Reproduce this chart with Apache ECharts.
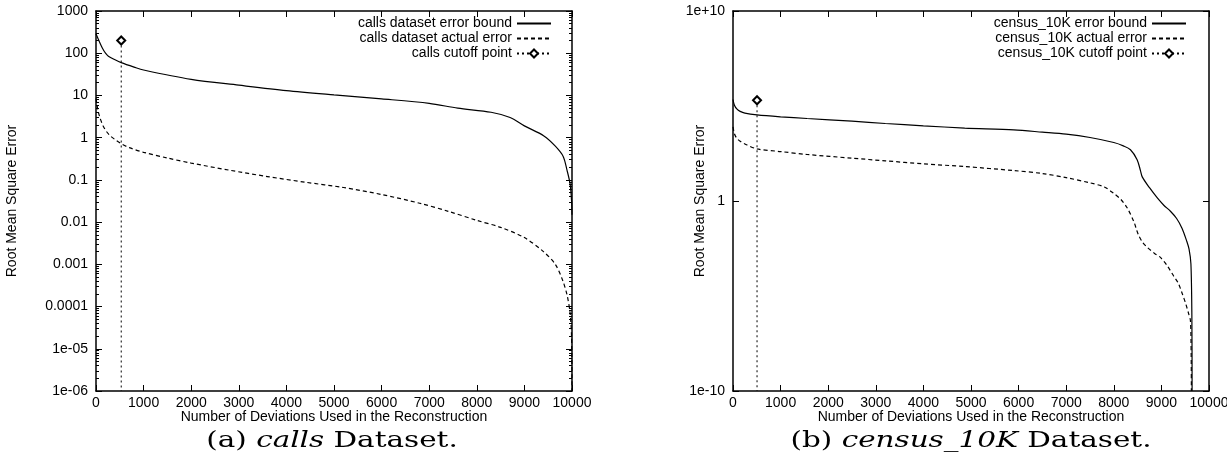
<!DOCTYPE html>
<html>
<head>
<meta charset="utf-8">
<script src="https://cdn.jsdelivr.net/npm/echarts@6/dist/echarts.min.js"></script>
<style>
  html, body { margin: 0; padding: 0; background: #fff; }
  #chart { width: 1227px; height: 465px; }
</style>
</head>
<body>
<div id="chart"></div>
<script>
  // (a) calls dataset
  var callsBoundX = [0, 60, 130, 200, 260, 400, 530, 800, 1000, 2000, 3000, 4000, 5000, 6000, 7000, 7600, 8300, 8700, 9000, 9410, 9650, 9815, 9895, 9960, 9992, 10000]
  var callsBound = [290, 200, 135, 100, 85, 70, 60, 47, 40, 24, 17.5, 13, 10.3, 8.3, 6.5, 5, 4, 3, 1.9, 1.1, 0.63, 0.36, 0.17, 0.08, 0.03, 0.015]
  var callsActualX = [0, 40, 90, 150, 220, 300, 400, 530, 700, 1000, 1500, 2000, 2800, 3600, 4400, 5200, 6000, 6800, 7400, 8000, 8500, 9000, 9400, 9650, 9810, 9900, 9960, 9990, 10000]
  var callsActual = [8.5, 4.5, 2.8, 1.9, 1.4, 1.1, 0.9, 0.72, 0.58, 0.45, 0.33, 0.25, 0.17, 0.12, 0.088, 0.066, 0.045, 0.028, 0.018, 0.011, 0.0075, 0.0043, 0.002, 0.001, 0.0004, 0.00018, 0.00007, 0.00002, 0.000001]
  var callsCutoffX = [530, 530]
  var callsCutoff = [200, 0.000001]

  // (b) census_10K dataset
  var censusBoundX = [0, 30, 80, 150, 250, 505, 1000, 1556, 2500, 3200, 4000, 4868, 5900, 6500, 7000, 7500, 8000, 8200, 8350, 8490, 8560, 8600, 8750, 8910, 9050, 9190, 9320, 9435, 9530, 9580, 9620, 9640, 9645]
  var censusBound = [2.2e5, 1.1e5, 7e4, 5.2e4, 4.2e4, 3.4e4, 2.7e4, 2.2e4, 1.6e4, 1.2e4, 9e3, 6.9e3, 5.5e3, 4.2e3, 3.3e3, 2.2e3, 1.2e3, 800, 500, 150, 40, 18, 5, 1.5, 0.6, 0.29, 0.12, 0.036, 0.008, 0.003, 0.0005, 1e-6, 1e-10]
  var censusActualX = [0, 30, 80, 150, 250, 505, 1000, 1556, 2500, 3200, 4000, 4868, 5900, 6500, 7000, 7500, 7800, 8000, 8150, 8280, 8420, 8480, 8520, 8600, 8700, 8850, 8980, 9120, 9260, 9350, 9435, 9510, 9575, 9610, 9625, 9630]
  var censusActual = [8e3, 3.5e3, 2e3, 1.4e3, 1e3, 550, 400, 280, 180, 130, 90, 65, 40, 28, 17, 9, 5.5, 2.5, 1.2, 0.44, 0.083, 0.03, 0.016, 0.007, 0.0037, 0.0018, 0.00107, 0.0004, 0.00011, 0.00005, 0.000014, 0.000004, 0.0000011, 5e-7, 1e-8, 1e-10]
  var censusCutoffX = [505, 505]
  var censusCutoff = [2e5, 1e-10]

  var xTicks = { min: 0, max: 10000, interval: 1000 }
  var callsRange = { min: 1e-6, max: 1000 }
  var censusRange = { min: 1e-10, max: 1e10 }

  var SANS = 'Liberation Sans'
  var SERIF = 'DejaVu Serif'

  function pairs(xs, ys) {
    return xs.map(function (x, i) { return [x, ys[i]] })
  }

  // gnuplot style %g labels: 0.0001, 1e-05, 1e+10
  function gLabel(v) {
    var e = Math.round(Math.log10(v))
    if (e < -4 || e >= 6) {
      var a = Math.abs(e)
      return '1e' + (e < 0 ? '-' : '+') + (a < 10 ? '0' + a : a)
    }
    return String(Number(v.toPrecision(6)))
  }

  function xAxis(grid, pos) {
    return {
      type: 'value', gridIndex: grid, position: pos,
      min: xTicks.min, max: xTicks.max, interval: xTicks.interval,
      axisLine: { show: true, onZero: false, lineStyle: { color: '#000', width: 1.5 } },
      axisTick: { show: true, inside: true, length: 6, lineStyle: { color: '#000', width: 1 } },
      axisLabel: {
        show: pos === 'bottom', color: '#000', fontFamily: SANS, fontSize: 14, margin: 5,
        formatter: function (v) { return String(v) }
      },
      splitLine: { show: false },
      name: pos === 'bottom' ? 'Number of Deviations Used in the Reconstruction' : '',
      nameLocation: 'middle', nameGap: 19, nameMoveOverlap: false,
      nameTextStyle: { color: '#000', fontFamily: SANS, fontSize: 14 }
    }
  }

  function yAxis(grid, pos, range, minor) {
    return {
      type: 'log', logBase: 10, gridIndex: grid, position: pos,
      min: range.min, max: range.max,
      axisLine: { show: true, onZero: false, lineStyle: { color: '#000', width: 1.5 } },
      axisTick: { show: true, inside: true, length: 6, lineStyle: { color: '#000', width: 1 } },
      minorTick: { show: minor, splitNumber: 9, length: 3, lineStyle: { color: '#000', width: 1 } },
      axisLabel: { show: pos === 'left', color: '#000', fontFamily: SANS, fontSize: 14, margin: 8, formatter: gLabel },
      splitLine: { show: false },
      name: pos === 'left' ? 'Root Mean Square Error' : '',
      nameLocation: 'middle', nameGap: grid === 0 ? 77 : 26, nameMoveOverlap: false,
      nameTextStyle: { color: '#000', fontFamily: SANS, fontSize: 14 }
    }
  }

  function curve(name, xs, ys, axis, dash) {
    return {
      name: name, type: 'line', xAxisIndex: axis * 2, yAxisIndex: axis * 2,
      data: pairs(xs, ys), showSymbol: false, symbol: 'none', smooth: 0.3,
      lineStyle: { color: '#000', width: 1.2, type: dash },
      itemStyle: { color: '#000' },
      animation: false
    }
  }

  function cutoff(name, xs, ys, axis) {
    var d = pairs(xs, ys)
    return {
      name: name, type: 'line', xAxisIndex: axis * 2, yAxisIndex: axis * 2,
      data: [{ value: d[0] }, { value: d[1], symbol: 'none' }],
      symbol: 'emptyDiamond', symbolSize: 8, showSymbol: true,
      lineStyle: { color: '#000', width: 1, type: [2, 3] },
      itemStyle: { color: '#000', borderWidth: 1 },
      animation: false
    }
  }

  function legend(names, right) {
    return {
      data: [
        { name: names[0], itemStyle: { opacity: 0 } },
        { name: names[1], itemStyle: { opacity: 0 } },
        { name: names[2] }
      ],
      orient: 'vertical', align: 'right', right: right, top: 11,
      itemWidth: 34, itemHeight: 10, itemGap: 0,
      textStyle: { color: '#000', fontFamily: SANS, fontSize: 14, lineHeight: 15 }
    }
  }

  function caption(x, label) {
    return {
      type: 'text', x: x, y: 441, scaleX: 1.28,
      style: {
        text: label, align: 'center', verticalAlign: 'middle',
        fontFamily: SERIF, fontSize: 23, fill: '#000',
        rich: { i: { fontFamily: SERIF, fontSize: 23, fontStyle: 'italic' } }
      }
    }
  }

  var chart = echarts.init(document.getElementById('chart'))
  chart.setOption({
    backgroundColor: '#fff',
    animation: false,
    grid: [
      { left: 96, top: 11, width: 476, height: 380, outerBoundsMode: 'none', containLabel: false },
      { left: 733, top: 11, width: 476, height: 380, outerBoundsMode: 'none', containLabel: false }
    ],
    xAxis: [xAxis(0, 'bottom'), xAxis(0, 'top'), xAxis(1, 'bottom'), xAxis(1, 'top')],
    yAxis: [yAxis(0, 'left', callsRange, true), yAxis(0, 'right', callsRange, true),
            yAxis(1, 'left', censusRange, false), yAxis(1, 'right', censusRange, false)],
    legend: [
      legend(['calls dataset error bound', 'calls dataset actual error', 'calls cutoff point'], 670),
      legend(['census_10K error bound', 'census_10K actual error', 'census_10K cutoff point'], 35)
    ],
    graphic: [
      caption(332, '(a) {i|calls} Dataset.'),
      caption(971, '(b) {i|census_10K} Dataset.')
    ],
    series: [
      curve('calls dataset error bound', callsBoundX, callsBound, 0, 'solid'),
      curve('calls dataset actual error', callsActualX, callsActual, 0, [4, 3]),
      cutoff('calls cutoff point', callsCutoffX, callsCutoff, 0),
      curve('census_10K error bound', censusBoundX, censusBound, 1, 'solid'),
      curve('census_10K actual error', censusActualX, censusActual, 1, [4, 3]),
      cutoff('census_10K cutoff point', censusCutoffX, censusCutoff, 1)
    ]
  })
</script>
</body>
</html>
